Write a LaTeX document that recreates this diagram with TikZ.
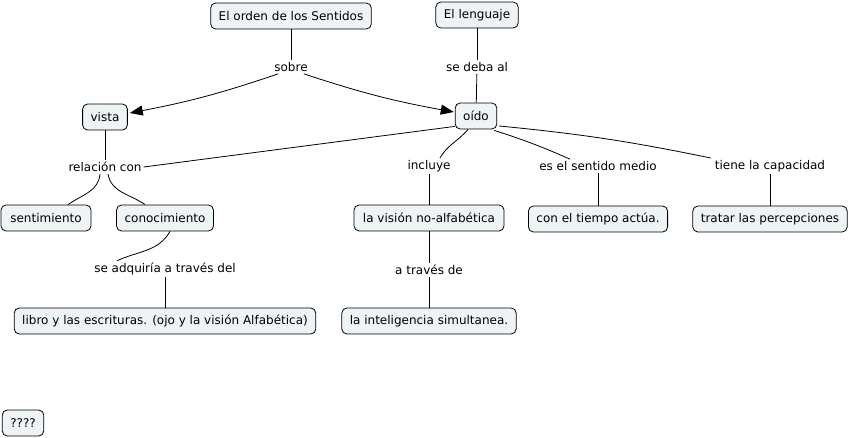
\documentclass[tikz,border=0pt]{standalone}
\usepackage{fontspec}
\setmainfont{DejaVu Sans}
\usepackage{xcolor}
\usepackage{tikz}
\usetikzlibrary{arrows.meta,calc}
\definecolor{cfill}{RGB}{238,243,245}
\tikzset{
  concept/.style={draw,line width=0.8pt,rounded corners=5pt,fill=cfill,inner xsep=8pt,inner ysep=0pt,minimum height=26pt,font=\fontsize{12}{14}\selectfont},
  link/.style={inner sep=2pt,font=\fontsize{12}{14}\selectfont},
  conn/.style={line width=0.8pt},
  arr/.style={conn,-{Triangle[length=13pt,width=10pt]}},
}

\begin{document}
\begin{tikzpicture}[x=1pt,y=1pt]
\useasboundingbox (0,0) rectangle (850,-438);
% concepts
\node[concept] (orden) at (291,-16) {El orden de los Sentidos};
\node[concept] (lenguaje) at (477,-15) {El lenguaje};
\node[concept] (vista) at (105,-117) {vista};
\node[concept] (oido) at (476,-116) {oído};
\node[concept,minimum width=90pt] (sentim) at (46,-218) {sentimiento};
\node[concept] (conoc) at (165,-218) {conocimiento};
\node[concept,minimum width=150pt] (vision) at (429,-218) {la visión no-alfabética};
\node[concept] (tiempo) at (598,-219) {con el tiempo actúa.};
\node[concept] (tratar) at (770,-219) {tratar las percepciones};
\node[concept] (libro) at (165,-321) {libro y las escrituras. (ojo y la visión Alfabética)};
\node[concept] (intel) at (429,-321) {la inteligencia simultanea.};
\node[concept] (preg) at (23,-423) {????};
% linking phrases
\node[link] (sobre) at (291,-67) {sobre};
\node[link] (deba) at (477,-67) {se deba al};
\node[link] (relacion) at (105,-167) {relación con};
\node[link] (incluye) at (429,-166) {incluye};
\node[link] (medio) at (598,-166) {es el sentido medio};
\node[link] (capac) at (770,-166) {tiene la capacidad};
\node[link] (adquiria) at (165,-269) {se adquiría a través del};
\node[link] (traves) at (429,-270) {a través de};
% connectors
\draw[conn] (orden) -- (sobre);
\draw[arr] ($(sobre.south west)+(6,0)$) to[bend left=4] ($(vista.east)+(2,4)$);
\draw[arr] ($(sobre.south east)+(-6,0)$) to[bend right=4] ($(oido.west)+(-1,4)$);
\draw[conn] (lenguaje) -- (deba);
\draw[conn] (deba) -- (oido);
\draw[conn] (vista) -- (relacion);
\draw[conn] (relacion.east) -- ($(oido.south west)+(0,3)$);
\draw[conn] ($(relacion.south)+(-5,0)$) to[out=-95,in=35] ($(sentim.north)+(22,0)$);
\draw[conn] ($(relacion.south)+(3,0)$) to[out=-80,in=145] ($(conoc.north)+(-20,0)$);
\draw[conn] ($(conoc.south)+(5,0)$) to[out=-120,in=25] ($(adquiria.north)+(-48,0)$);
\draw[conn] (adquiria) -- (libro);
\draw[conn] ($(oido.south)+(-8,0)$) to[out=-130,in=60] ($(incluye.north)+(11,0)$);
\draw[conn] (incluye) -- (vision);
\draw[conn] (vision) -- (traves);
\draw[conn] (traves) -- (intel);
\draw[conn] ($(oido.south east)+(-3,-1)$) to[bend left=3] ($(medio.north)+(-28,0)$);
\draw[conn] (medio) -- (tiempo);
\draw[conn] ($(oido.east)+(2,-10)$) to[bend left=3] ($(capac.north west)+(-2,0)$);
\draw[conn] (capac) -- (tratar);
\end{tikzpicture}
\end{document}
